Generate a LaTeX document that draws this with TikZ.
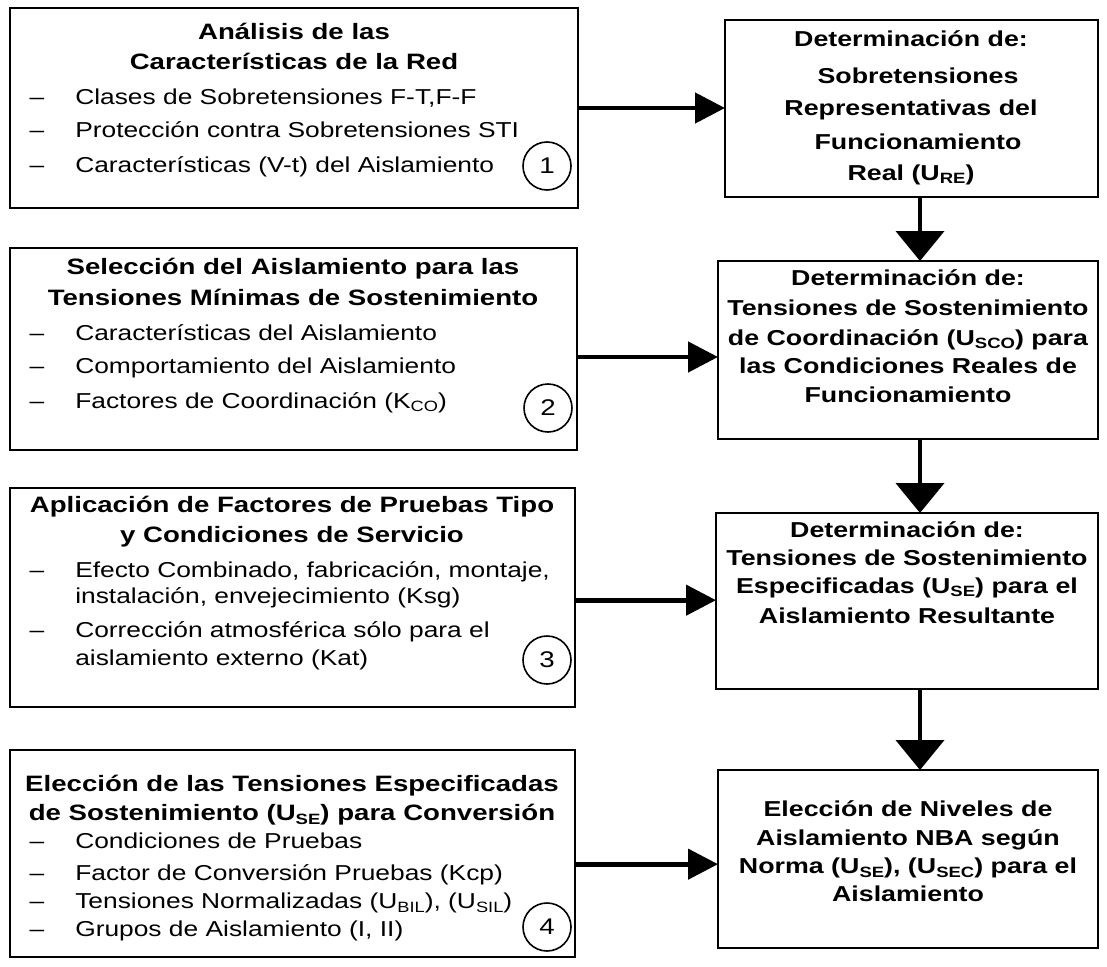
\documentclass[tikz,border=0pt]{standalone}
\usepackage{fontspec}
\newfontfamily\rgf{Liberation Sans}[FakeStretch=1.22]
\newfontfamily\bdf{Liberation Sans}[FakeStretch=1.24]
\usetikzlibrary{arrows.meta}
\newcommand\sbs[1]{\raisebox{-0.35ex}{\fontsize{11.2}{11.2}\selectfont #1}}
\begin{document}
\begin{tikzpicture}[x=0.75pt,y=-0.75pt,
 box/.style={draw, line width=1.2pt, anchor=north west, inner sep=0pt, outer sep=0pt},
 ttl/.style={anchor=base, font=\bdf\fontsize{16.7}{18}\selectfont\bfseries, inner sep=0pt},
 itm/.style={anchor=base west, font=\rgf\fontsize{16.2}{18}\selectfont, inner sep=0pt},
 dsh/.style={anchor=base, font=\rgf\fontsize{16.2}{18}\selectfont, inner sep=0pt},
 rtx/.style={anchor=base, font=\bdf\fontsize{16.2}{18}\selectfont\bfseries, inner sep=0pt},
 num/.style={draw, circle, line width=1.2pt, minimum size=36pt, inner sep=0pt, font=\rgf\fontsize{17}{18}\selectfont},
 harrow/.style={line width=3.5pt, -{Triangle[length=22.5pt,width=22.5pt]}},
 varrow/.style={line width=3.2pt, -{Triangle[length=22.5pt,width=36pt]}},
]
\useasboundingbox (0,0) rectangle (1107,967);
% boxes
\node[box, minimum width=426pt, minimum height=150pt] (b1) at (10,8) {};
\node[box, minimum width=425.25pt, minimum height=151.5pt] (b2) at (10,248) {};
\node[box, minimum width=423.75pt, minimum height=164.25pt] (b3) at (10,488) {};
\node[box, minimum width=423.75pt, minimum height=155.25pt] (b4) at (10,750) {};
\node[box, minimum width=279.75pt, minimum height=132.75pt] (r1) at (725,20) {};
\node[box, minimum width=285pt, minimum height=133.5pt] (r2) at (718,261) {};
\node[box, minimum width=286.5pt, minimum height=132pt] (r3) at (716,513) {};
\node[box, minimum width=285pt, minimum height=133.5pt] (r4) at (718,770) {};

% box 1 text
\node[ttl] (t1a) at (294,39) {Análisis de las};
\node[ttl] (t1b) at (294,69) {Características de la Red};
\node[dsh] (d1a) at (37,104) {–};
\node[itm] (i1a) at (75,104) {Clases de Sobretensiones F-T,F-F};
\node[dsh] (d1b) at (37,137) {–};
\node[itm] (i1b) at (75,137) {Protección contra Sobretensiones STI};
\node[dsh] (d1c) at (37,172) {–};
\node[itm] (i1c) at (75,172) {Características (V-t) del Aislamiento};
\node[num] (n1) at (547,166) {1};

% box 2 text
\node[ttl] (t2a) at (293,274) {Selección del Aislamiento para las};
\node[ttl] (t2b) at (293,305) {Tensiones Mínimas de Sostenimiento};
\node[dsh] (d2a) at (37,340) {–};
\node[itm] (i2a) at (75,340) {Características del Aislamiento};
\node[dsh] (d2b) at (37,373) {–};
\node[itm] (i2b) at (75,373) {Comportamiento del Aislamiento};
\node[dsh] (d2c) at (37,408) {–};
\node[itm] (i2c) at (75,408) {Factores de Coordinación (K\sbs{CO})};
\node[num] (n2) at (548,408) {2};

% box 3 text
\node[ttl] (t3a) at (292,512) {Aplicación de Factores de Pruebas Tipo};
\node[ttl] (t3b) at (292,542) {y Condiciones de Servicio};
\node[dsh] (d3a) at (37,577) {–};
\node[itm] (i3a) at (75,577) {Efecto Combinado, fabricación, montaje,};
\node[itm] (i3b) at (75,603) {instalación, envejecimiento (Ksg)};
\node[dsh] (d3b) at (37,637) {–};
\node[itm] (i3c) at (75,637) {Corrección atmosférica sólo para el};
\node[itm] (i3d) at (75,665) {aislamiento externo (Kat)};
\node[num] (n3) at (547,660) {3};

% box 4 text
\node[ttl] (t4a) at (292,791) {Elección de las Tensiones Especificadas};
\node[ttl] (t4b) at (292,820) {de Sostenimiento (U\sbs{SE}) para Conversión};
\node[dsh] (d4a) at (37,848) {–};
\node[itm] (i4a) at (75,848) {Condiciones de Pruebas};
\node[dsh] (d4b) at (37,880) {–};
\node[itm] (i4b) at (75,880) {Factor de Conversión Pruebas (Kcp)};
\node[dsh] (d4c) at (37,908) {–};
\node[itm] (i4c) at (75,908) {Tensiones Normalizadas (U\sbs{BIL}), (U\sbs{SIL})};
\node[dsh] (d4d) at (37,936) {–};
\node[itm] (i4d) at (75,936) {Grupos de Aislamiento (I, II)};
\node[num] (n4) at (547,927) {4};

% right box texts
\node[rtx] (s1a) at (911,46) {Determinación de:};
\node[rtx] (s1b) at (918,83) {Sobretensiones};
\node[rtx] (s1c) at (911,115) {Representativas del};
\node[rtx] (s1d) at (918,149) {Funcionamiento};
\node[rtx] (s1e) at (911,180) {Real (U\sbs{RE})};

\node[rtx] (s2a) at (908,285) {Determinación de:};
\node[rtx] (s2b) at (908,315) {Tensiones de Sostenimiento};
\node[rtx] (s2c) at (908,345) {de Coordinación (U\sbs{SCO}) para};
\node[rtx] (s2d) at (908,373) {las Condiciones Reales de};
\node[rtx] (s2e) at (908,402) {Funcionamiento};

\node[rtx] (s3a) at (907,537) {Determinación de:};
\node[rtx] (s3b) at (907,565) {Tensiones de Sostenimiento};
\node[rtx] (s3c) at (907,593) {Especificadas (U\sbs{SE}) para el};
\node[rtx] (s3d) at (907,623) {Aislamiento Resultante};

\node[rtx] (s4a) at (908,816) {Elección de Niveles de};
\node[rtx] (s4b) at (908,845) {Aislamiento NBA según};
\node[rtx] (s4c) at (908,873) {Norma (U\sbs{SE}), (U\sbs{SEC}) para el};
\node[rtx] (s4d) at (908,901) {Aislamiento};

% connectors
\draw[harrow] (b1.east) -- (b1.east -| r1.west);
\draw[harrow] ([yshift=-6pt]b2.east) -- ([yshift=-6pt]b2.east -| r2.west);
\draw[harrow] ([yshift=-2pt]b3.east) -- ([yshift=-2pt]b3.east -| r3.west);
\draw[harrow] ([yshift=-8pt]b4.east) -- ([yshift=-8pt]b4.east -| r4.west);
\coordinate (vx) at (920,0);
\draw[varrow] (r1.south -| vx) -- (r2.north -| vx);
\draw[varrow] (r2.south -| vx) -- (r3.north -| vx);
\draw[varrow] (r3.south -| vx) -- (r4.north -| vx);
\end{tikzpicture}
\end{document}
